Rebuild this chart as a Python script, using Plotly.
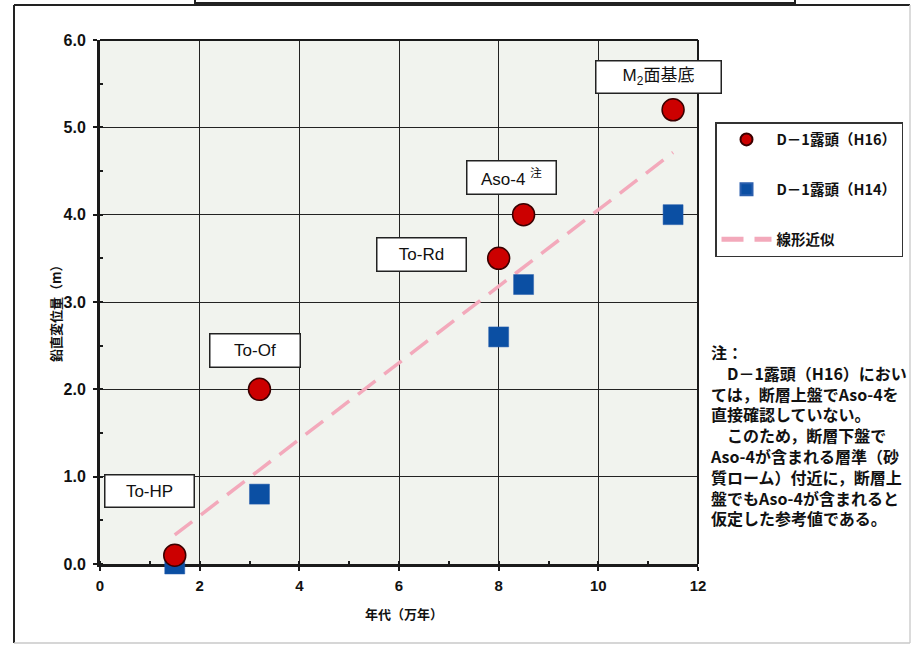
import numpy as np
import plotly.graph_objects as go

# Age (10^4 years) and vertical displacement (m) at outcrop D-1
ages = [1.5, 3.2, 8.0, 8.5, 11.5]
disp_h16 = [0.1, 2.0, 3.5, 4.0, 5.2]
disp_h14 = [0.0, 0.8, 2.6, 3.2, 4.0]

tephra_labels = ["To-HP", "To-Of", "To-Rd", "Aso-4 <sup>注</sup>", "M<sub>2</sub>面基底"]

series_names = ["D－1露頭（H16）", "D－1露頭（H14）", "線形近似"]

note_lines = [
    "注：",
    "\u3000D－1露頭（H16）におい",
    "ては，断層上盤でAso-4を",
    "直接確認していない。",
    "\u3000このため，断層下盤で",
    "Aso-4が含まれる層準（砂",
    "質ローム）付近に，断層上",
    "盤でもAso-4が含まれると",
    "仮定した参考値である。",
]

# Linear fit over both survey series
all_x = np.array(ages + ages)
all_y = np.array(disp_h16 + disp_h14)
slope, intercept = np.polyfit(all_x, all_y, 1)
fit_x = np.array([min(ages), max(ages)])
fit_y = slope * fit_x + intercept

W, H = 914, 645
L, R, T, B = 100, 698, 40, 564


def px(x):
    return (x - L) / (R - L)


def py(y):
    return (B - y) / (B - T)


LAT = "Liberation Sans, Arial, Noto Sans CJK JP"
JP = "Noto Sans CJK JP, Liberation Sans"

fig = go.Figure()

fig.add_trace(go.Scatter(
    x=fit_x, y=fit_y, mode="lines", name=series_names[2],
    line=dict(color="#f3a9bb", width=3.5, dash="22px,11px"),
    legendrank=3, legendgroup="c",
))
fig.add_trace(go.Scatter(
    x=ages, y=disp_h14, mode="markers", name=series_names[1],
    marker=dict(symbol="square", size=20, color="#0b4fa3",
                line=dict(color="#2a5fae", width=0.5)),
    cliponaxis=False, legendrank=2, legendgroup="b",
))
fig.add_trace(go.Scatter(
    x=ages, y=disp_h16, mode="markers", name=series_names[0],
    marker=dict(symbol="circle", size=22, color="#cc0000",
                line=dict(color="#3a0000", width=1.5)),
    cliponaxis=False, legendrank=1, legendgroup="a",
))

# Label boxes for the tephra horizons (centre in data units, size in px)
label_boxes = [
    (1.0, 0.84, 88, 31),
    (3.11, 2.45, 89, 32),
    (6.46, 3.54, 88, 32),
    (8.25, 4.42, 88, 32),
    (11.2, 5.58, 124, 31),
]
annotations = []
for text, (bx, by, bw, bh) in zip(tephra_labels, label_boxes):
    annotations.append(dict(
        x=bx, y=by, xref="x", yref="y", text=text, showarrow=False,
        width=bw, height=bh, bgcolor="white", bordercolor="#222",
        borderwidth=1.5, borderpad=0, align="center", valign="middle",
        font=dict(family=LAT, size=17, color="#111"),
    ))

# Note text on the right
annotations.append(dict(
    x=px(708), y=py(435), xref="paper", yref="paper",
    xanchor="left", yanchor="middle", align="left",
    text="<br>".join(note_lines), showarrow=False,
    font=dict(family=JP, size=16, color="#111", weight="bold"),
))

# Axis titles
annotations.append(dict(
    x=px(404), y=py(613), xref="paper", yref="paper", text="年代（万年）",
    xanchor="center", yanchor="middle", showarrow=False,
    font=dict(family=JP, size=13, color="#111", weight="bold"),
))
annotations.append(dict(
    x=px(55), y=py(310), xref="paper", yref="paper", text="鉛直変位量（m）",
    xanchor="center", yanchor="middle", textangle=-90, showarrow=False,
    font=dict(family=JP, size=13, color="#111", weight="bold"),
))

shapes = [
    # top and right plot borders
    dict(type="line", xref="paper", yref="paper", x0=0, x1=1, y0=1, y1=1,
         line=dict(color="#1a1a1a", width=2)),
    dict(type="line", xref="paper", yref="paper", x0=1, x1=1, y0=0, y1=1,
         line=dict(color="#1a1a1a", width=2)),
    # outer frame
    dict(type="line", xref="paper", yref="paper", x0=px(14), x1=px(910),
         y0=py(5), y1=py(5), line=dict(color="#222", width=2)),
    dict(type="line", xref="paper", yref="paper", x0=px(14), x1=px(14),
         y0=py(5), y1=py(643), line=dict(color="#222", width=2)),
    dict(type="line", xref="paper", yref="paper", x0=px(910), x1=px(910),
         y0=py(5), y1=py(643), line=dict(color="#cfcfcf", width=1.5)),
    dict(type="line", xref="paper", yref="paper", x0=px(14), x1=px(910),
         y0=py(643), y1=py(643), line=dict(color="#c8c8c8", width=1.5)),
    # title box at the top edge
    dict(type="rect", xref="paper", yref="paper", x0=px(195), x1=px(795),
         y0=py(3), y1=py(-20), fillcolor="white",
         line=dict(color="#222", width=2)),
]

fig.update_layout(
    width=W, height=H,
    margin=dict(l=L, r=W - R, t=T, b=H - B, autoexpand=False),
    paper_bgcolor="white",
    plot_bgcolor="#f1f3ee",
    annotations=annotations,
    shapes=shapes,
    showlegend=True,
    legend=dict(
        x=px(715), y=py(122), xanchor="left", yanchor="top",
        bgcolor="white", bordercolor="#333", borderwidth=1.5,
        traceorder="grouped", tracegroupgap=28, itemsizing="constant",
        itemwidth=50,
        font=dict(family=JP, size=14.5, color="#111", weight="bold"),
    ),
    xaxis=dict(
        range=[0, 12], dtick=2, tick0=0, showgrid=True, gridcolor="#222",
        gridwidth=1, zeroline=False, showline=True, linecolor="#1a1a1a",
        linewidth=3, ticks="outside", ticklen=4, tickwidth=2,
        tickcolor="#1a1a1a", ticklabelstandoff=2, layer="below traces",
        tickfont=dict(family=LAT, size=15, color="#111", weight="bold"),
        minor=dict(ticks="inside", dtick=1, ticklen=3, tickwidth=2,
                   tickcolor="#1a1a1a", showgrid=False),
        fixedrange=True,
    ),
    yaxis=dict(
        range=[0, 6], dtick=1, tick0=0, tickformat=".1f", showgrid=True,
        gridcolor="#222", gridwidth=1, zeroline=False, showline=True,
        linecolor="#1a1a1a", linewidth=3, ticks="outside", ticklen=4,
        tickwidth=2, tickcolor="#1a1a1a", ticklabelstandoff=4,
        layer="below traces",
        tickfont=dict(family=LAT, size=16, color="#111", weight="bold"),
        minor=dict(ticks="inside", dtick=0.5, ticklen=3, tickwidth=2,
                   tickcolor="#1a1a1a", showgrid=False),
        fixedrange=True,
    ),
)

fig.write_html("out.html")
